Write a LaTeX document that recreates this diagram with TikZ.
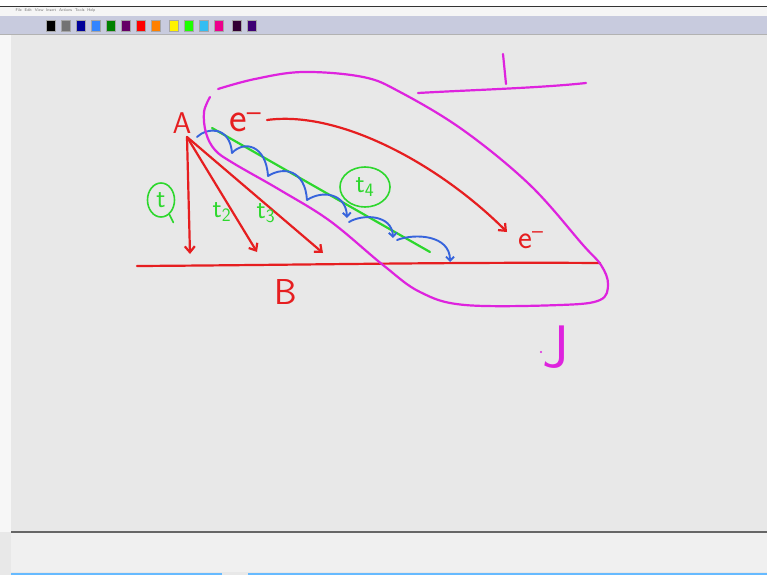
\documentclass[tikz,border=0pt]{standalone}
\usetikzlibrary{arrows.meta, shapes.geometric}
\definecolor{penred}{RGB}{230,30,32}
\definecolor{pengreen}{RGB}{45,215,45}
\definecolor{penblue}{RGB}{55,100,220}
\definecolor{penmag}{RGB}{222,35,222}
\definecolor{board}{RGB}{232,232,232}
\definecolor{barblue}{RGB}{200,203,222}
\begin{document}
\begin{tikzpicture}[x=1pt, y=-1pt,
    pen/.style={line width=2.2pt, line cap=round, line join=round},
    redpen/.style={pen, draw=penred},
    greenpen/.style={pen, draw=pengreen},
    bluepen/.style={pen, draw=penblue, line width=1.9pt},
    magpen/.style={pen, draw=penmag},
    ray/.style={redpen, -{Straight Barb[length=6pt, width=10pt]}},
    hop/.style={bluepen, -{Straight Barb[length=4pt, width=8pt]}},
    hand/.style={inner sep=0pt, font=\sffamily\fontsize{#1}{#1}\selectfont},
    hand/.default=22,
    swatch/.style={fill=#1, draw=black!35, line width=0.3pt},
]
\useasboundingbox (0,0) rectangle (767,575);
\fill[board] (0,0) rectangle (767,575);
\fill[white] (0,0) rectangle (767,6);
\fill[black!4] (0,7) rectangle (767,16);
\fill[barblue] (0,16) rectangle (767,34);
\fill[black!3] (0,35) rectangle (11,532);
\draw[black!80, line width=1.2pt] (0,6.5) -- (767,6.5);
\draw[black!30, line width=1.5pt] (0,34.5) -- (767,34.5);
\node[font=\sffamily\fontsize{4}{4}\selectfont, text=black!55, anchor=west]
  (menu) at (12,11) {File \ Edit \ View \ Insert \ Actions \ Tools \ Help};
\foreach \sx/\sc in {46/black, 61/black!55, 76/blue!60!black, 91/blue!60!cyan!80,
    106/green!50!black, 121/violet!80!black, 136/red, 151/orange,
    169/yellow, 184/green!85!lime, 199/cyan!80, 214/magenta,
    232/violet!40!black, 247/violet!70!blue!70!black}
  \draw[swatch=\sc] (\sx,20) rectangle ++(9,11);
\draw[black!60, line width=1.5pt] (11,532) -- (767,532);
\fill[black!6] (11,533) rectangle (767,572);
\fill[blue!45!cyan!60] (11,573) rectangle (222,575);
\fill[blue!45!cyan!60] (248,573) rectangle (767,575);

% drawing on the board
\coordinate (src) at (187,137);
\coordinate (hit1) at (190,254);
\coordinate (hit2) at (257,252);
\coordinate (hit3) at (323,253);
\coordinate (glo) at (212,128);
\coordinate (ghi) at (430,252);
\coordinate (eout) at (267,120);
\coordinate (ein) at (507,232);
\coordinate (bl) at (137,266);
\coordinate (br) at (600,263);

\draw[redpen] (bl) .. controls (300,265) and (450,262) .. (br);
\draw[ray] (src) -- (hit1);
\draw[ray] (src) -- (hit2);
\draw[ray] (src) -- (hit3);
\draw[ray] (eout) .. controls (340,110) and (440,165) .. (ein);
\draw[greenpen] (glo) -- (ghi);

\coordinate (c0) at (197,137);
\coordinate (c1) at (232,153);
\coordinate (c2) at (268,176);
\coordinate (c3) at (307,200);
\coordinate (c4) at (347,218);
\coordinate (c5) at (393,238);
\coordinate (c6) at (450,262);
\draw[hop] (c0) .. controls (207,127) and (230,126) .. (c1)
  .. controls (244,140) and (266,145) .. (c2)
  .. controls (284,166) and (305,170) .. (c3)
  .. controls (322,190) and (346,193) .. (c4);
\draw[hop] (349,222) .. controls (362,214) and (392,214) .. (c5);
\draw[hop] (397,240) .. controls (415,233) and (450,235) .. (c6);

\draw[magpen] plot[smooth, tension=0.6] coordinates {
  (210,97) (204,112) (206,133) (215,150) (233,163) (280,190) (330,221)
  (383,265) (420,292) (465,305) (560,305) (600,300) (608,284) (601,265)
  (583,245) (530,185) (463,130) (400,92) (363,77) (303,72) (255,79) (218,89)};

\draw[magpen] (418,93) .. controls (470,90) and (540,88) .. (586,83);
\draw[magpen] (503,54) -- (506,84);

\node[hand=30, text=penred] (lblA) at (182,123) {A};
\node[hand=36, text=penred] (lblB) at (286,292) {B};
\node[hand=42, text=penred, anchor=base west] (eleft) at (229,131) {e\textsuperscript{--}};
\node[hand=33, text=penred, anchor=base west] (eright) at (518,248) {e\textsuperscript{--}};
\node[hand=27, text=pengreen] (tb) at (222,212) {t\textsubscript{2}};
\node[hand=27, text=pengreen] (tc) at (266,213) {t\textsubscript{3}};
\node[hand=27, text=pengreen, draw=pengreen, line width=1.6pt, ellipse,
      minimum width=50pt, minimum height=40pt] (td) at (365,187) {t\textsubscript{4}};
\node[hand=27, text=pengreen, draw=pengreen, line width=1.6pt, ellipse,
      minimum width=27pt, minimum height=34pt] (ta) at (161,200) {t};
\draw[greenpen, line width=1.6pt] (ta.-60) -- ++(4,8);

\node[hand=60, text=penmag] (lblJ) at (556,347) {J};
\fill[penmag] (541,352) circle (1.2);
\end{tikzpicture}
\end{document}
